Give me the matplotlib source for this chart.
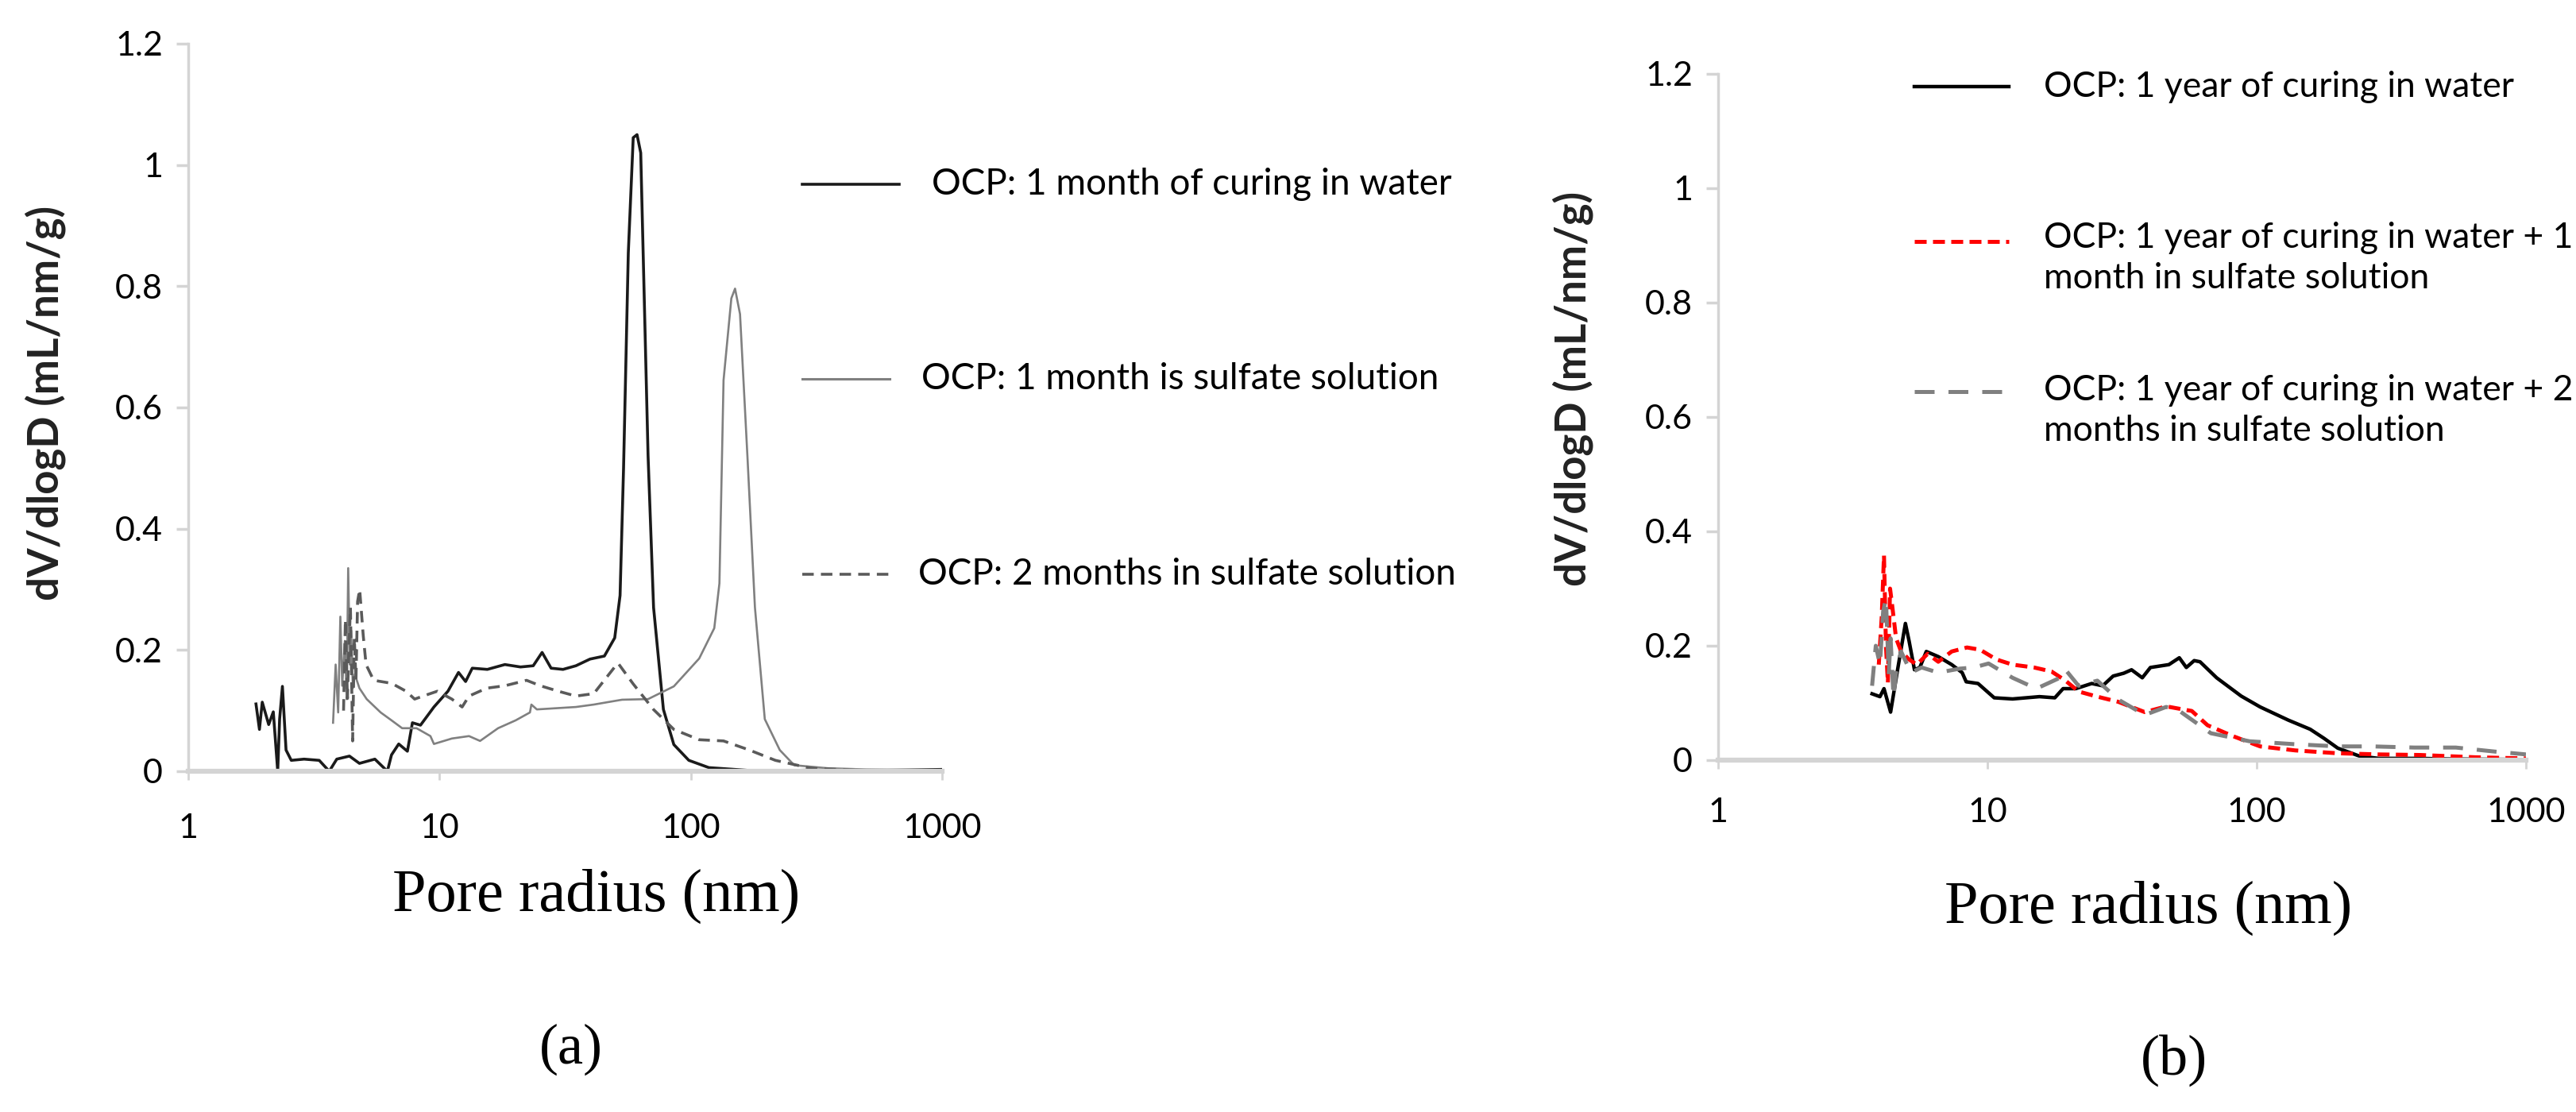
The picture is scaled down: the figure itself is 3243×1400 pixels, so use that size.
import matplotlib
matplotlib.use("Agg")
import matplotlib.pyplot as plt
from matplotlib.lines import Line2D
from matplotlib.ticker import FixedLocator, FuncFormatter, NullLocator

# ---- data: pore radius (nm) and dV/dlogD (mL/nm/g) ----
# (a) left panel
a_water_r = [1.86, 1.92, 1.97, 2.09, 2.18, 2.27, 2.31, 2.37, 2.45, 2.57, 2.89, 3.32, 3.64, 3.90,
             4.38, 4.80, 5.53, 6.20, 6.44, 6.88, 7.45, 7.80, 8.4, 9.5, 10.8, 11.9, 12.7, 13.5,
             15.5, 18.2, 21.0, 23.6, 25.6, 27.8, 31.0, 34.9, 39.7, 45.3, 49.8, 52.3, 54.0,
             56.4, 59.0, 61.1, 63.2, 67.6, 71.1, 77.8, 85.6, 98.2, 118, 150, 189, 300, 500, 1000]
a_water_v = [0.111, 0.069, 0.114, 0.077, 0.098, 0.0, 0.086, 0.140, 0.035, 0.018, 0.020, 0.018,
             0.0, 0.020, 0.025, 0.013, 0.020, 0.0, 0.027, 0.045, 0.033, 0.080, 0.076, 0.106,
             0.132, 0.163, 0.148, 0.170, 0.168, 0.176, 0.172, 0.174, 0.196, 0.170, 0.168, 0.174,
             0.185, 0.190, 0.220, 0.290, 0.50, 0.855, 1.045, 1.05, 1.02, 0.52, 0.27, 0.102,
             0.044, 0.018, 0.006, 0.003, 0.0, 0.002, 0.001, 0.003]

a_sulf1_r = [3.77, 3.86, 3.95, 4.03, 4.10, 4.20, 4.27, 4.33, 4.40, 4.45, 4.52, 4.60, 4.80, 5.13,
             5.83, 6.44, 7.1, 8.1, 9.2, 9.5, 11.2, 13.1, 14.5, 17.1, 20.1, 22.9, 23.2, 24.4,
             34.9, 41.1, 48.3, 53.3, 67.6, 85.6, 108, 124, 130, 135, 145, 150, 157, 168, 180,
             197, 226, 258, 350, 500, 1000]
a_sulf1_v = [0.08, 0.176, 0.097, 0.255, 0.141, 0.215, 0.119, 0.335, 0.176, 0.232, 0.137, 0.16,
             0.137, 0.119, 0.097, 0.084, 0.071, 0.071, 0.058, 0.045, 0.054, 0.058, 0.050, 0.071,
             0.084, 0.097, 0.110, 0.102, 0.106, 0.110, 0.115, 0.118, 0.119, 0.140, 0.186, 0.236,
             0.31, 0.645, 0.78, 0.796, 0.754, 0.52, 0.27, 0.086, 0.035, 0.010, 0.005, 0.003, 0.002]

a_sulf2_r = [4.15, 4.22, 4.30, 4.35, 4.42, 4.51, 4.58, 4.65, 4.72, 4.81, 4.97, 5.1, 5.47, 6.45,
             7.36, 7.96, 8.6, 9.8, 11.2, 12.3, 13.1, 15.4, 18.2, 22.2, 25.2, 29.7, 34.9, 41.1,
             49.8, 51.4, 59, 71, 85.6, 108, 135, 171, 217, 300, 500, 1000]
a_sulf2_v = [0.10, 0.25, 0.12, 0.194, 0.27, 0.05, 0.22, 0.15, 0.28, 0.30, 0.224, 0.176, 0.15,
             0.145, 0.132, 0.119, 0.124, 0.132, 0.119, 0.106, 0.124, 0.137, 0.141, 0.15, 0.141,
             0.132, 0.124, 0.128, 0.172, 0.178, 0.144, 0.102, 0.069, 0.052, 0.05, 0.035, 0.018,
             0.005, 0.001, 0.0]

# (b) right panel
b_water_r = [3.73, 3.99, 4.13, 4.37, 4.62, 4.96, 5.12, 5.36, 5.61, 5.93, 6.57, 7.37, 8.06, 8.34,
             9.23, 10.6, 12.4, 15.6, 17.8, 19.1, 21.3, 24.4, 26.8, 29.3, 32.1, 34.3, 37.6, 40.3,
             47.2, 51.6, 54.8, 58.6, 61.6, 71.0, 87.6, 103, 131, 158, 178, 200, 241, 284, 405,
             513, 1000]
b_water_v = [0.116, 0.111, 0.125, 0.084, 0.153, 0.239, 0.208, 0.158, 0.162, 0.190, 0.181, 0.167,
             0.153, 0.137, 0.134, 0.109, 0.107, 0.111, 0.109, 0.125, 0.125, 0.134, 0.130, 0.147,
             0.152, 0.158, 0.144, 0.162, 0.167, 0.179, 0.162, 0.174, 0.172, 0.144, 0.112, 0.093,
             0.070, 0.054, 0.038, 0.021, 0.007, 0.003, 0.003, 0.002, 0.001]

b_sulf1_r = [3.95, 4.05, 4.13, 4.20, 4.27, 4.35, 4.42, 4.58, 4.78, 5.12, 5.47, 6.0, 6.57, 7.37,
             8.4, 9.4, 10.8, 12.4, 14.9, 17.3, 19.5, 21.8, 25.6, 30.6, 38.4, 46.2, 54.2, 57.4,
             65.7, 81.6, 103, 139, 200, 284, 405, 648, 1000]
b_sulf1_v = [0.167, 0.25, 0.358, 0.20, 0.135, 0.30, 0.274, 0.213, 0.19, 0.176, 0.167, 0.186,
             0.172, 0.190, 0.197, 0.193, 0.176, 0.167, 0.162, 0.155, 0.139, 0.120, 0.111, 0.102,
             0.084, 0.094, 0.088, 0.086, 0.061, 0.042, 0.024, 0.017, 0.012, 0.010, 0.009, 0.005,
             0.003]

b_sulf2_r = [3.73, 3.85, 3.99, 4.1, 4.2, 4.3, 4.37, 4.48, 4.58, 4.78, 5.2, 5.7, 6.57, 7.9, 8.9,
             10.1, 12.4, 15.2, 18.6, 19.5, 21.8, 25.6, 30.6, 38.4, 46.1, 51, 54.2, 67.6, 94,
             137, 200, 270, 385, 549, 765, 1000]
b_sulf2_v = [0.130, 0.20, 0.167, 0.26, 0.283, 0.15, 0.213, 0.11, 0.153, 0.19, 0.153, 0.162, 0.153,
             0.160, 0.162, 0.169, 0.144, 0.125, 0.144, 0.158, 0.130, 0.139, 0.106, 0.079, 0.093,
             0.088, 0.079, 0.047, 0.033, 0.028, 0.024, 0.024, 0.022, 0.022, 0.015, 0.010]

a_labels = ["OCP: 1 month of curing in water",
            "OCP: 1 month is sulfate solution",
            "OCP: 2 months in sulfate solution"]
b_labels = ["OCP: 1 year of curing in water",
            "OCP: 1 year of curing in water + 1\nmonth in sulfate solution",
            "OCP: 1 year of curing in water + 2\nmonths in sulfate solution"]

x_ticks = [1, 10, 100, 1000]
y_ticks = [0, 0.2, 0.4, 0.6, 0.8, 1.0, 1.2]

SANS = ["Lato", "DejaVu Sans"]
SERIF = ["Liberation Serif", "DejaVu Serif"]
AXIS_GREY = "#d4d4d4"

fig = plt.figure(figsize=(32.43, 14), dpi=100)
W, H = 3243.0, 1400.0


def fx(px):
    return px / W


def fy(py):
    return 1 - py / H


def style_axes(ax, xpad):
    ax.set_xscale("log")
    ax.set_xlim(1, 1000)
    ax.set_ylim(0, 1.2)
    ax.xaxis.set_major_locator(FixedLocator(x_ticks))
    ax.xaxis.set_minor_locator(NullLocator())
    ax.xaxis.set_major_formatter(FuncFormatter(lambda v, p: "%g" % v))
    ax.yaxis.set_major_locator(FixedLocator(y_ticks))
    ax.yaxis.set_major_formatter(FuncFormatter(lambda v, p: "%g" % v))
    for s in ["top", "right"]:
        ax.spines[s].set_visible(False)
    ax.spines["left"].set_color(AXIS_GREY)
    ax.spines["left"].set_linewidth(2.5)
    ax.spines["bottom"].set_color(AXIS_GREY)
    ax.spines["bottom"].set_linewidth(4.5)
    ax.tick_params(axis="y", length=11, width=2.5, color=AXIS_GREY, pad=12,
                   labelsize=31, labelcolor="black")
    ax.tick_params(axis="x", length=8, width=2, color=AXIS_GREY, pad=xpad,
                   labelsize=31, labelcolor="black")
    for t in ax.get_yticklabels() + ax.get_xticklabels():
        t.set_family(SANS)


# ---------------- panel (a) ----------------
axa = fig.add_axes([fx(237), fy(971), fx(1186) - fx(237), fy(55) - fy(971)])
style_axes(axa, 30)
axa.plot(a_water_r, a_water_v, color="#1a1a1a", lw=2.6)
axa.plot(a_sulf1_r, a_sulf1_v, color="#808080", lw=1.9)
axa.plot(a_sulf2_r, a_sulf2_v, color="#5a5a5a", lw=2.6, dashes=(4, 2.5))

fig.text(fx(57), fy(507), "dV/dlogD (mL/nm/g)", family=SANS, fontsize=38, fontweight="bold",
         color="#222222", rotation=90, ha="center", va="center")
fig.text(fx(751), fy(1128), "Pore radius (nm)", family=SERIF, fontsize=55,
         ha="center", va="center")

# legend (a), drawn beside the plot
a_leg = [(232, 1132, 1173, dict(color="#1a1a1a", lw=2.6)),
         (477, 1120, 1160, dict(color="#808080", lw=2.2)),
         (723, 1120, 1156, dict(color="#5a5a5a", lw=2.6, dashes=(4, 2.5)))]
for (py, x1, tx, kw), lab in zip(a_leg, a_labels):
    fig.add_artist(Line2D([fx(1010), fx(x1)], [fy(py), fy(py)], transform=fig.transFigure, **kw))
    fig.text(fx(tx), fy(py), lab, family=SANS, fontsize=33, va="center", ha="left")

fig.text(fx(719), fy(1321), "(a)", family=SERIF, fontsize=52, ha="center", va="center")

# ---------------- panel (b) ----------------
axb = fig.add_axes([fx(2163), fy(957), fx(3180) - fx(2163), fy(93) - fy(957)])
style_axes(axb, 26)
axb.plot(b_water_r, b_water_v, color="black", lw=3.2)
axb.plot(b_sulf1_r, b_sulf1_v, color="#ff0000", lw=3.6, dashes=(3, 1.6))
axb.plot(b_sulf2_r, b_sulf2_v, color="#808080", lw=3.6, dashes=(5, 3.5))

fig.text(fx(1980), fy(489), "dV/dlogD (mL/nm/g)", family=SANS, fontsize=38, fontweight="bold",
         color="#222222", rotation=90, ha="center", va="center")
fig.text(fx(2705), fy(1143), "Pore radius (nm)", family=SERIF, fontsize=55,
         ha="center", va="center")

b_leg = [(109, 109, dict(color="black", lw=3.2)),
         (304, 325, dict(color="#ff0000", lw=3.6, dashes=(3, 1.6))),
         (493, 517, dict(color="#808080", lw=3.6, dashes=(5, 3.5)))]
for (py, ty, kw), lab in zip(b_leg, b_labels):
    fig.add_artist(Line2D([fx(2410), fx(2529)], [fy(py), fy(py)], transform=fig.transFigure, **kw))
    fig.text(fx(2573), fy(ty), lab, family=SANS, fontsize=32, va="center", ha="left",
             linespacing=1.3)

fig.text(fx(2737), fy(1335), "(b)", family=SERIF, fontsize=52, ha="center", va="center")

fig.savefig("out.png", dpi=100, facecolor="white")
